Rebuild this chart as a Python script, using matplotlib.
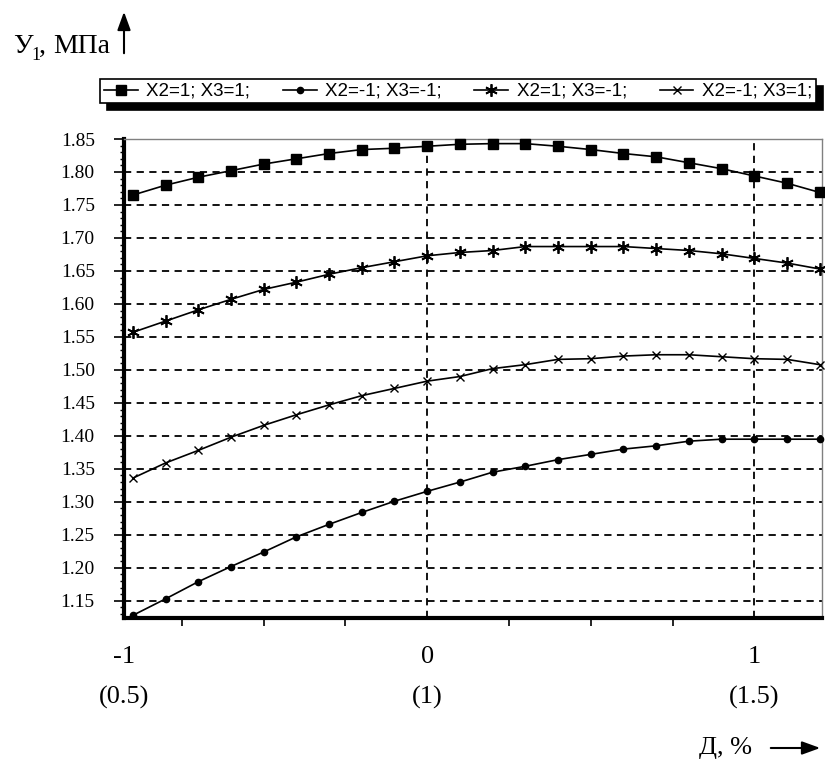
import matplotlib.pyplot as plt
import numpy as np
from matplotlib.ticker import MultipleLocator
from matplotlib.patches import FancyArrowPatch

# кодированные значения фактора Д (от -0.9 до 1.2 с шагом 0.1)
x_codes = [-0.9, -0.8, -0.7, -0.6, -0.5, -0.4, -0.3, -0.2, -0.1, 0.0, 0.1,
           0.2, 0.3, 0.4, 0.5, 0.6, 0.7, 0.8, 0.9, 1.0, 1.1, 1.2]

y_x2p_x3p = [1.765, 1.780, 1.792, 1.802, 1.812, 1.820, 1.828, 1.834, 1.836, 1.839, 1.842,
             1.843, 1.843, 1.839, 1.834, 1.828, 1.823, 1.814, 1.805, 1.794, 1.783, 1.769]
y_x2m_x3m = [1.128, 1.153, 1.179, 1.202, 1.224, 1.247, 1.266, 1.284, 1.301, 1.316, 1.330,
             1.345, 1.354, 1.364, 1.372, 1.380, 1.385, 1.392, 1.395, 1.395, 1.395, 1.395]
y_x2p_x3m = [1.557, 1.574, 1.591, 1.607, 1.622, 1.633, 1.645, 1.655, 1.664, 1.673, 1.678,
             1.681, 1.687, 1.687, 1.687, 1.687, 1.684, 1.681, 1.676, 1.669, 1.662, 1.653]
y_x2m_x3p = [1.336, 1.359, 1.378, 1.398, 1.416, 1.432, 1.447, 1.461, 1.472, 1.483, 1.490,
             1.502, 1.508, 1.516, 1.517, 1.521, 1.523, 1.523, 1.520, 1.517, 1.516, 1.508]

series_labels = ["X2=1; X3=1;", "X2=-1; X3=-1;", "X2=1; X3=-1;", "X2=-1; X3=1;"]

x_tick_codes = ["-1", "0", "1"]
x_tick_natural = ["(0.5)", "(1)", "(1.5)"]
y_ticks = [1.15, 1.20, 1.25, 1.30, 1.35, 1.40, 1.45, 1.50, 1.55, 1.60, 1.65, 1.70, 1.75, 1.80, 1.85]

serif = ["Liberation Serif", "DejaVu Serif"]
sans = ["Liberation Sans", "DejaVu Sans"]

fig = plt.figure(figsize=(8.25, 7.62), dpi=100)
ax = fig.add_axes([124 / 825, 1 - 618 / 762, 698 / 825, 479 / 762])

xmin, xmax = -0.927, 1.207
ax.set_xlim(xmin, xmax)
ax.set_ylim(1.124, 1.85)

# сетка: горизонтальные линии на каждом делении, вертикальные только на 0 и 1
for yv in y_ticks:
    ax.axhline(yv, color="black", lw=1.3, ls=(0, (4, 3)), zorder=1)
for xv in [0, 1]:
    ax.axvline(xv, color="black", lw=1.3, ls=(0, (4, 3)), zorder=1)

styles = [
    dict(marker="s", ms=7.5),
    dict(marker="o", ms=4.5),
    dict(marker=(6, 2, 0), ms=9, mew=1.3),
    dict(marker="x", ms=6, mew=1.0),
]
all_y = [y_x2p_x3p, y_x2m_x3m, y_x2p_x3m, y_x2m_x3p]
handles = []
for ys, lab, st in zip(all_y, series_labels, styles):
    h, = ax.plot(x_codes, ys, color="black", lw=1.2, mfc="black", mec="black",
                 label=lab, zorder=3, clip_on=False, **st)
    handles.append(h)

# оси
ax.spines["left"].set_linewidth(3)
ax.spines["bottom"].set_linewidth(3)
ax.spines["top"].set_linewidth(1)
ax.spines["right"].set_linewidth(1)
ax.spines["top"].set_color("#808080")
ax.spines["right"].set_color("#808080")

ax.set_yticks(y_ticks)
ax.set_yticklabels(["%.2f" % v for v in y_ticks], fontfamily=serif, fontsize=14)
ax.yaxis.set_minor_locator(MultipleLocator(0.01))
ax.tick_params(axis="y", which="major", length=7, width=1.2, direction="out", pad=14)
ax.tick_params(axis="y", which="minor", length=3, width=1.0, direction="out")

ax.set_xticks([xmin, 0, 1])
ax.set_xticklabels(x_tick_codes, fontfamily=serif, fontsize=19)
ax.set_xticks(np.arange(-0.75, 1.01, 0.25), minor=True)
ax.tick_params(axis="x", which="major", length=0, pad=20)
ax.tick_params(axis="x", which="minor", length=6, width=1.2, direction="out")

trans = ax.get_xaxis_transform()
for xv, lab in zip([xmin, 0, 1], x_tick_natural):
    ax.text(xv, -(697 - 618) / 479, lab, transform=trans, ha="center", va="center",
            fontfamily=serif, fontsize=19)

# легенда с тенью
leg = fig.legend(handles=handles, loc="center", ncol=4,
                 bbox_to_anchor=(458 / 825, 1 - 91 / 762),
                 prop={"family": sans, "size": 13.5}, frameon=True, fancybox=False,
                 shadow={"color": "black", "alpha": 1.0, "ox": 5, "oy": -5},
                 handlelength=1.8, handletextpad=0.45, columnspacing=1.75,
                 borderpad=0.2, borderaxespad=0, handleheight=0.5)
leg.get_frame().set_edgecolor("black")
leg.get_frame().set_linewidth(1.2)

# подписи осей со стрелками
fig.text(13 / 825, 1 - 53 / 762, "У", fontfamily=serif, fontsize=20, ha="left", va="baseline")
fig.text(31 / 825, 1 - 60 / 762, "1", fontfamily=serif, fontsize=13, ha="left", va="baseline")
fig.text(39 / 825, 1 - 53 / 762, ",", fontfamily=serif, fontsize=20, ha="left", va="baseline")
fig.text(53 / 825, 1 - 53 / 762, "МПа", fontfamily=serif, fontsize=20, ha="left", va="baseline")
fig.add_artist(FancyArrowPatch(
    (124 / 825, 1 - 56 / 762), (124 / 825, 1 - 9 / 762), transform=fig.transFigure,
    arrowstyle="-|>,head_length=11,head_width=4", color="black", lw=1.5))

fig.text(752 / 825, 1 - 748 / 762, "Д, %", fontfamily=serif, fontsize=19, ha="right", va="center")
fig.add_artist(FancyArrowPatch(
    (768 / 825, 1 - 748 / 762), (823 / 825, 1 - 748 / 762), transform=fig.transFigure,
    arrowstyle="-|>,head_length=11,head_width=4", color="black", lw=1.5))

fig.savefig("out.png", dpi=100)
